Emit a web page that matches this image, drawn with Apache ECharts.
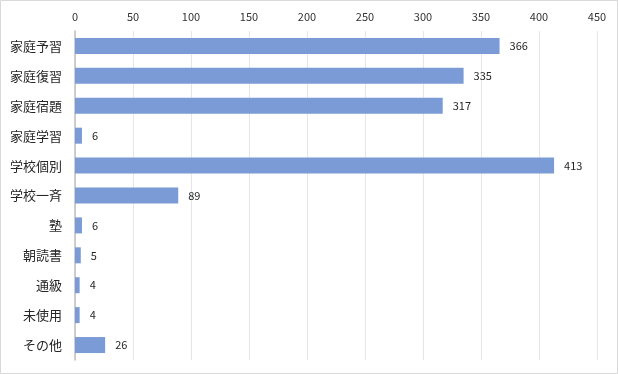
<!DOCTYPE html>
<html><head><meta charset="utf-8">
<script src="https://cdn.jsdelivr.net/npm/echarts@6/dist/echarts.min.js"></script>
<style>html,body{margin:0;padding:0;background:#fff}#c{width:618px;height:374px}</style>
</head><body><div id="c"></div>
<script>
const categories = ['家庭予習','家庭復習','家庭宿題','家庭学習','学校個別','学校一斉','塾','朝読書','通級','未使用','その他'];
const values = [366,335,317,6,413,89,6,5,4,4,26];
const xTicks = [0,50,100,150,200,250,300,350,400,450];

const chart = echarts.init(document.getElementById('c'));
chart.setOption({
  animation:false,
  textStyle:{fontFamily:'"Noto Sans CJK JP","Noto Sans",sans-serif'},
  graphic:[{type:'rect',shape:{x:0.5,y:0.5,width:617,height:373},style:{fill:'none',stroke:'#d9d9d9',lineWidth:1},silent:true}],
  grid:{left:75,right:21,top:31,bottom:14,containLabel:false},
  xAxis:{type:'value',position:'top',min:xTicks[0],max:xTicks[xTicks.length-1],interval:50,
    axisLine:{show:false},axisTick:{show:false},
    axisLabel:{color:'#333333',fontSize:11,margin:9},
    splitLine:{lineStyle:{color:'#e6e6e6'}}},
  yAxis:{type:'category',data:categories,inverse:true,
    axisLine:{show:true,lineStyle:{color:'#bfbfbf',width:1.5}},axisTick:{show:false},
    axisLabel:{color:'#262626',fontSize:13,margin:13}},
  series:[{type:'bar',data:values,barWidth:16,itemStyle:{color:'#7b9bd6'},
    label:{show:true,position:'right',distance:10,color:'#262626',fontSize:11}}]
});
</script></body></html>
